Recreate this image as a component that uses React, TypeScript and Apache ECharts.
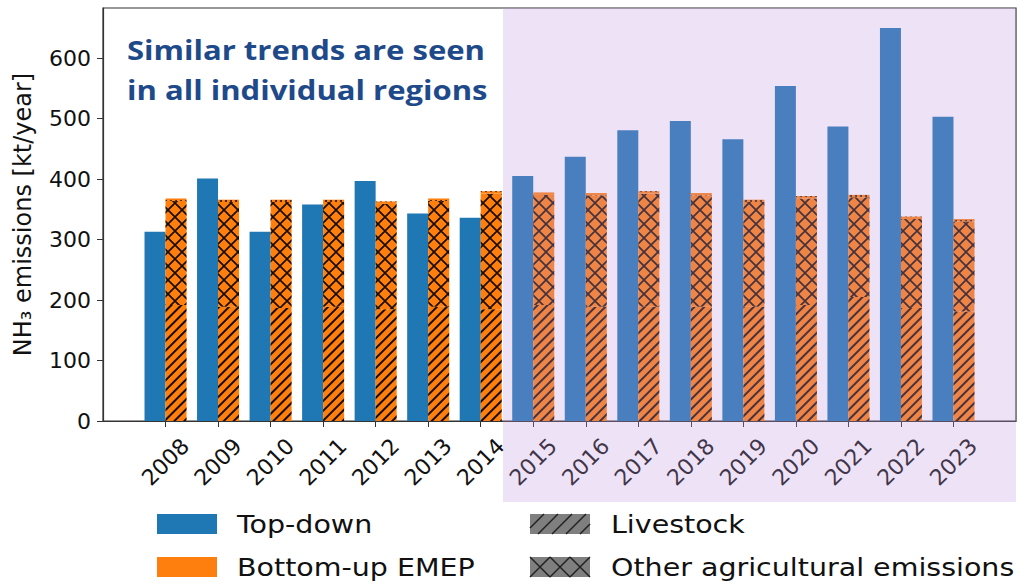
import React, { useEffect, useRef } from 'react';
import * as echarts from 'echarts';

const years = ['2008', '2009', '2010', '2011', '2012', '2013', '2014', '2015', '2016', '2017', '2018', '2019', '2020', '2021', '2022', '2023'];
const topDown = [313, 401, 313, 358, 397, 343, 336, 405, 437, 481, 496, 466, 554, 487, 650, 503];
const emepTotal = [368, 366, 366, 366, 363, 368, 380, 378, 377, 380, 377, 366, 372, 374, 338, 334];
const livestock = [192, 189, 187, 189, 185, 189, 185, 192, 189, 189, 189, 189, 192, 205, 187, 181];
const topCap = [4, 4, 4, 4, 4, 4, 4, 4, 4, 4, 4, 4, 4, 4, 4, 4];
const otherAgri = emepTotal.map((t, i) => t - livestock[i] - topCap[i]);
const yTicks = [0, 100, 200, 300, 400, 500, 600];

const FONT = '"DejaVu Sans", sans-serif';

function hatchPath(w: number, h: number, step: number, slash: boolean, back: boolean): string {
  let d = '';
  for (let c = -h; c <= w; c += step) {
    const x0 = Math.max(0, c);
    const x1 = Math.min(w, c + h);
    if (x1 <= x0) continue;
    if (slash) {
      d += `M${x0} ${h - (x0 - c)}L${x1} ${h - (x1 - c)}`;
    }
    if (back) {
      d += `M${x0} ${x0 - c}L${x1} ${x1 - c}`;
    }
  }
  return d;
}

echarts.graphic.registerShape('hatchSlash', echarts.graphic.extendPath(hatchPath(60, 20, 14, true, false), {}) as any);
echarts.graphic.registerShape('hatchCross', echarts.graphic.extendPath(hatchPath(60, 20, 20, true, true), {}) as any);

// data rows are [value, yearIndex]; encode maps column 1 to x and column 0 to y so stacking is on y
const rows = (vals: number[]) => vals.map((v, i) => [v, i]);
const enc = { x: 1, y: 0 };

export default function App() {
  const ref = useRef<HTMLDivElement>(null);
  useEffect(() => {
    if (!ref.current) return;
    const chart = echarts.init(ref.current, undefined, { renderer: 'svg' });
    const idx = years.map((_, i) => i);
    const option: any = {
      animation: false,
      grid: { left: 103, right: 9, top: 8, bottom: 165, show: true, borderColor: '#333', borderWidth: 1.2, backgroundColor: 'transparent' },
      xAxis: {
        type: 'value', min: -1.19, max: 16.19,
        axisLine: { show: true, onZero: false, lineStyle: { color: '#333', width: 1.2 } },
        axisTick: { show: true, customValues: idx, length: 6, lineStyle: { color: '#333' } },
        axisLabel: {
          customValues: idx, formatter: (v: number) => years[Math.round(v)] || '',
          rotate: 45, align: 'center', verticalAlign: 'middle', margin: 41,
          fontSize: 22, fontFamily: FONT, color: '#111',
        },
        splitLine: { show: false },
      },
      yAxis: {
        type: 'value', min: 0, max: 683,
        name: 'NH₃ emissions [kt/year]', nameLocation: 'middle', nameGap: 68,
        nameTextStyle: { fontSize: 24, fontFamily: FONT, color: '#111' },
        axisLine: { show: true, onZero: false, lineStyle: { color: '#333', width: 1.2 } },
        axisTick: { show: true, customValues: yTicks, length: 6, lineStyle: { color: '#333' } },
        axisLabel: { customValues: yTicks, fontSize: 22, fontFamily: FONT, color: '#111', margin: 12 },
        splitLine: { show: false },
      },
      series: [
        {
          name: 'Top-down', type: 'bar', barWidth: 21, barGap: '0%',
          data: rows(topDown), encode: enc,
          itemStyle: { color: '#1f77b4' },
        },
        {
          name: 'Livestock', type: 'bar', stack: 'emep', barWidth: 21, barGap: '0%',
          data: rows(livestock), encode: enc,
          itemStyle: {
            color: '#ff7f0e',
            decal: { symbol: 'rect', dashArrayX: [1, 0], dashArrayY: [1.5, 4.3], rotation: -Math.PI / 4, color: 'rgba(0,0,0,0.9)', symbolSize: 1 },
          },
        },
        {
          name: 'Other agricultural emissions', type: 'bar', stack: 'emep', barWidth: 21, barGap: '0%',
          data: rows(otherAgri), encode: enc,
          itemStyle: {
            color: '#ff7f0e',
            decal: {
              symbol: 'path://M0 0L1.2 0L14 12.8L14 14L12.8 14L0 1.2ZM12.8 0L14 0L14 1.2L1.2 14L0 14L0 12.8Z',
              dashArrayX: [14, 0], dashArrayY: [14, 0], symbolSize: 1, rotation: 0, color: 'rgba(0,0,0,0.9)',
            },
          },
        },
        {
          name: 'Other', type: 'bar', stack: 'emep', barWidth: 21, barGap: '0%',
          data: rows(topCap), encode: enc,
          itemStyle: {
            color: '#ff7f0e',
            decal: { symbol: 'circle', dashArrayX: [2, 3], dashArrayY: [2, 3], symbolSize: 1, color: 'rgba(0,0,0,0.85)' },
          },
        },
      ],
      graphic: [
        {
          type: 'rect', z: 100, silent: true,
          shape: { x: 503, y: 8, width: 513, height: 494 },
          style: { fill: 'rgba(192,152,222,0.27)' },
        },
        {
          type: 'text', z: 110, x: 127, y: 50, scaleX: 1.15,
          style: { text: 'Similar trends are seen', fill: '#1f4a8a', fontSize: 27, fontWeight: 'bold', fontFamily: '"Open Sans", sans-serif', verticalAlign: 'middle' },
        },
        {
          type: 'text', z: 110, x: 127, y: 90, scaleX: 1.15,
          style: { text: 'in all individual regions', fill: '#1f4a8a', fontSize: 27, fontWeight: 'bold', fontFamily: '"Open Sans", sans-serif', verticalAlign: 'middle' },
        },
        { type: 'rect', z: 110, shape: { x: 157, y: 514, width: 60, height: 20 }, style: { fill: '#1f77b4' } },
        { type: 'rect', z: 110, shape: { x: 157, y: 557, width: 60, height: 20 }, style: { fill: '#ff7f0e' } },
        { type: 'rect', z: 110, shape: { x: 530, y: 514, width: 60, height: 20 }, style: { fill: '#7f7f7f' } },
        { type: 'hatchSlash', z: 111, x: 530, y: 514, style: { stroke: '#222', lineWidth: 1.5, fill: 'none' } },
        { type: 'rect', z: 110, shape: { x: 530, y: 557, width: 60, height: 20 }, style: { fill: '#7f7f7f' } },
        { type: 'hatchCross', z: 111, x: 530, y: 557, style: { stroke: '#222', lineWidth: 1.5, fill: 'none' } },
        { type: 'text', z: 110, x: 237, y: 524, scaleX: 1.14, style: { text: 'Top-down', fill: '#111', fontSize: 25, fontFamily: FONT, verticalAlign: 'middle' } },
        { type: 'text', z: 110, x: 237, y: 567, scaleX: 1.14, style: { text: 'Bottom-up EMEP', fill: '#111', fontSize: 25, fontFamily: FONT, verticalAlign: 'middle' } },
        { type: 'text', z: 110, x: 611, y: 524, scaleX: 1.14, style: { text: 'Livestock', fill: '#111', fontSize: 25, fontFamily: FONT, verticalAlign: 'middle' } },
        { type: 'text', z: 110, x: 611, y: 567, scaleX: 1.14, style: { text: 'Other agricultural emissions', fill: '#111', fontSize: 25, fontFamily: FONT, verticalAlign: 'middle' } },
      ],
    };
    chart.setOption(option);
    return () => chart.dispose();
  }, []);
  return <div ref={ref} style={{ position: 'fixed', left: 0, top: 0, width: 1025, height: 586, background: '#fff' }} />;
}
